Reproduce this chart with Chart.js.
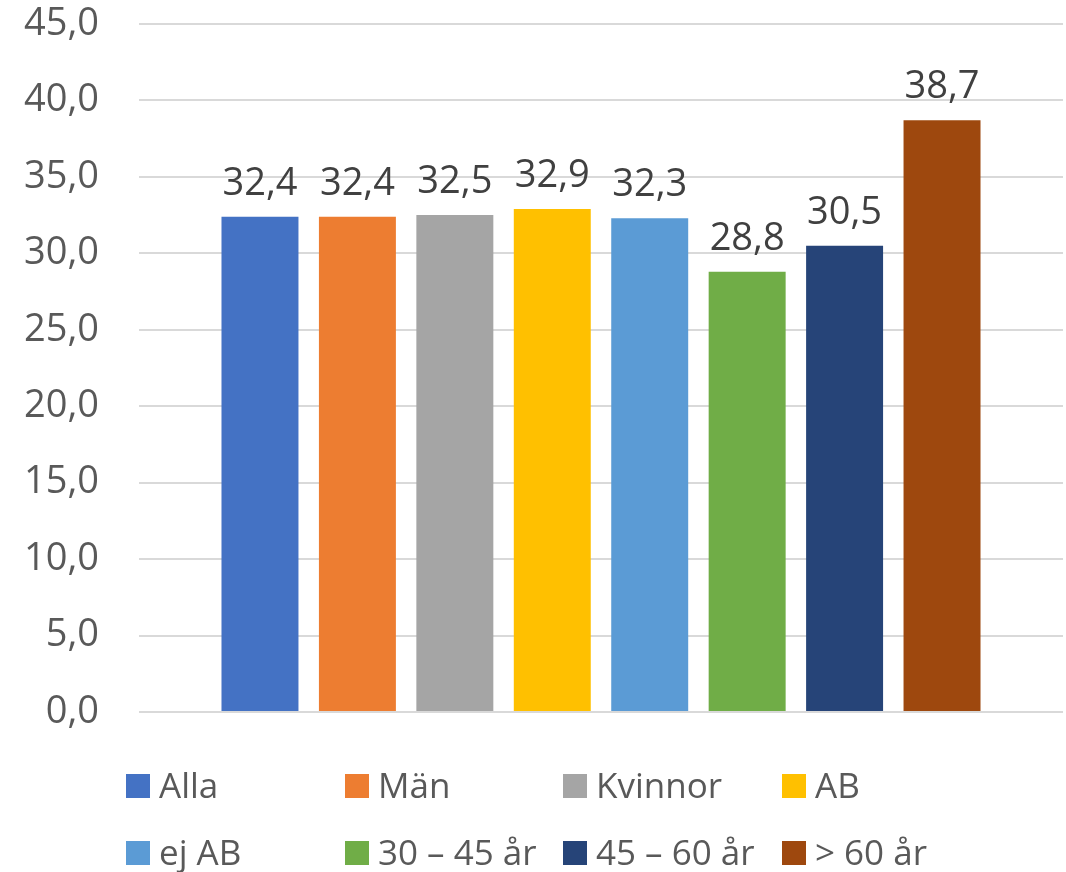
<!DOCTYPE html>
<html>
<head>
<meta charset="utf-8">
<script src="https://cdn.jsdelivr.net/npm/chart.js@4"></script>
<style>
  html, body { margin: 0; padding: 0; background: #ffffff; }
  #wrap { position: relative; width: 1066px; height: 872px; }
</style>
</head>
<body>
<div id="wrap"><canvas id="c" width="1066" height="872"></canvas></div>
<script>
const categories = [''];
const seriesNames = ['Alla', 'Män', 'Kvinnor', 'AB', 'ej AB', '30 – 45 år', '45 – 60 år', '> 60 år'];
const seriesValues = [32.4, 32.4, 32.5, 32.9, 32.3, 28.8, 30.5, 38.7];
const seriesColors = ['#4472C4', '#ED7D31', '#A5A5A5', '#FFC000', '#5B9BD5', '#70AD47', '#264478', '#9E480E'];
const yMin = 0, yMax = 45, yStep = 5;

const FONT = '"Open Sans", "Noto Sans", sans-serif';
const fmt = v => Number(v).toFixed(1).replace('.', ',');

const datasets = seriesNames.map((name, i) => ({
  label: name,
  data: [seriesValues[i]],
  backgroundColor: seriesColors[i],
  borderWidth: 0,
  categoryPercentage: 0.8436,
  barPercentage: 0.79
}));

const valueLabels = {
  id: 'valueLabels',
  afterDatasetsDraw(chart) {
    const ctx = chart.ctx;
    ctx.save();
    ctx.font = '38px ' + FONT;
    ctx.fillStyle = '#404040';
    ctx.textAlign = 'center';
    ctx.textBaseline = 'alphabetic';
    chart.data.datasets.forEach((ds, i) => {
      const meta = chart.getDatasetMeta(i);
      meta.data.forEach((bar, j) => {
        ctx.fillText(fmt(ds.data[j]), bar.x, bar.y - 22);
      });
    });
    ctx.restore();
  }
};

const gridLegend = {
  id: 'gridLegend',
  afterDraw(chart) {
    const ctx = chart.ctx;
    const cols = [126, 345, 563, 782];
    const rows = [798, 865];
    const box = 24;
    ctx.save();
    ctx.font = '35px ' + FONT;
    ctx.textBaseline = 'alphabetic';
    ctx.textAlign = 'left';
    chart.data.datasets.forEach((ds, i) => {
      const x = cols[i % 4];
      const yb = rows[Math.floor(i / 4)];
      ctx.fillStyle = ds.backgroundColor;
      ctx.fillRect(x, yb - box, box, box);
      ctx.fillStyle = '#595959';
      ctx.fillText(ds.label, x + box + 9, yb);
    });
    ctx.restore();
  }
};

new Chart(document.getElementById('c'), {
  type: 'bar',
  data: { labels: categories, datasets },
  options: {
    responsive: false,
    animation: false,
    devicePixelRatio: 1,
    layout: { padding: { top: 24, bottom: 160, left: 0, right: 3 } },
    plugins: {
      legend: { display: false },
      tooltip: { enabled: false },
      title: { display: false }
    },
    scales: {
      x: { display: false },
      y: {
        min: yMin,
        max: yMax,
        afterFit(scale) { scale.width = 139; scale.paddingTop = 0; scale.paddingBottom = 0; },
        ticks: {
          stepSize: yStep,
          padding: 40,
          color: '#595959',
          font: { family: FONT, size: 38 },
          callback: v => fmt(v)
        },
        grid: { color: '#d9d9d9', lineWidth: 2, drawTicks: false },
        border: { display: false }
      }
    }
  },
  plugins: [valueLabels, gridLegend]
});
</script>
</body>
</html>
